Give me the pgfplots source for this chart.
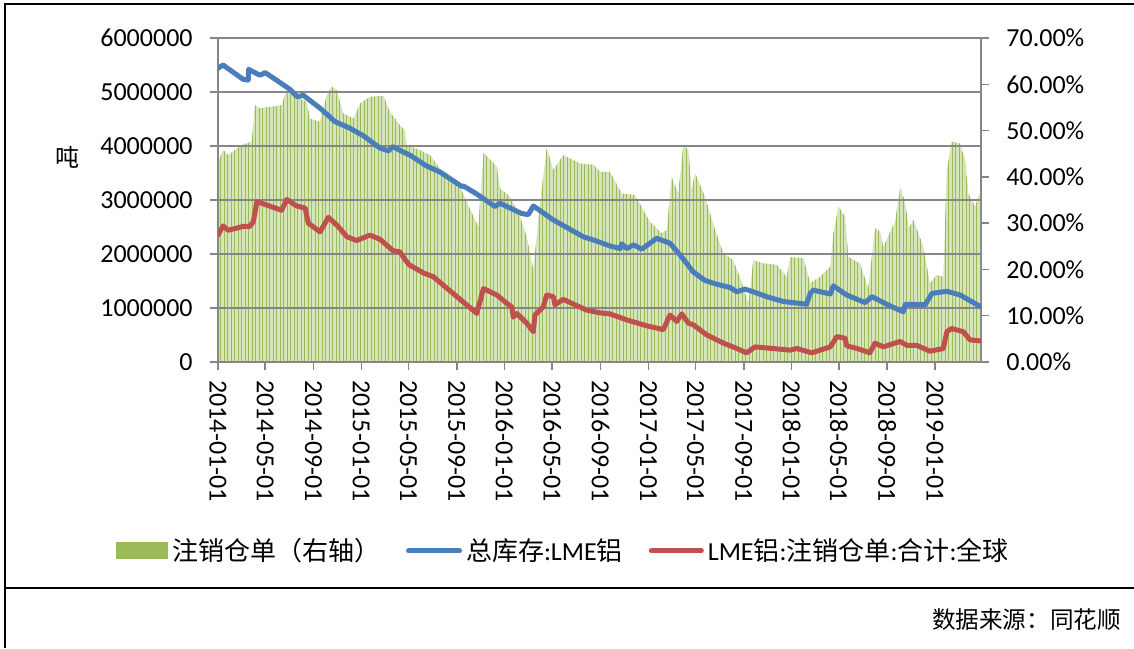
\documentclass[border=0pt]{standalone}
\usepackage{pgfplots}
\pgfplotsset{compat=1.18}
\usepackage{pgfplotstable}
\usepackage{fontspec}
\setmainfont{Carlito}
\newfontfamily\cjk{Noto Sans CJK SC}
\usetikzlibrary{patterns.meta}

\definecolor{exblue}{RGB}{74,126,187}
\definecolor{exred}{RGB}{192,80,77}
\definecolor{exgreen}{RGB}{155,187,89}
\definecolor{exlight}{RGB}{214,228,186}
\definecolor{exgrid}{RGB}{134,134,134}

\pgfplotsset{
  greenlegend/.style={legend image code/.code={\fill[exgreen] (0pt,-4pt) rectangle (25.5pt,4pt);}},
  bluelegend/.style={legend image code/.code={\draw[exblue, line width=2.5pt, line cap=round] (1pt,0pt) -- (26.5pt,0pt);}},
  redlegend/.style={legend image code/.code={\draw[exred, line width=2.5pt, line cap=round] (1pt,0pt) -- (26pt,0pt);}},
}

% share of cancelled warrants, % (right axis)
\pgfplotstableread{
day pct
0 43.3
13 45.8
26 44.7
60 46.9
86 47.6
94 55.5
107 54.8
162 55.5
173 58.4
226 56.2
234 52.6
260 51.9
277 57.7
290 59.5
302 58.8
319 53.7
345 52.6
362 55.9
387 57.3
421 57.5
438 54.1
463 51.2
476 50.1
480 46.9
514 45.8
540 44.7
574 40.8
616 37.9
633 34.6
663 29.2
676 45.2
710 42.2
718 37.5
744 35.7
769 31.4
786 27.1
803 19.9
820 34.3
837 46.2
854 41.5
879 44.7
922 42.9
956 42.6
973 41.1
998 41.1
1028 36.4
1062 36.1
1083 32.8
1100 30.3
1130 27.8
1143 28.5
1155 40.0
1172 36.4
1185 46.9
1198 45.8
1206 37.2
1215 40.8
1240 35.7
1266 28.5
1287 23.5
1312 22.0
1330 18.1
1351 12.7
1363 22.0
1389 21.3
1423 21.0
1448 18.4
1457 22.7
1491 22.4
1508 17.0
1533 18.4
1559 20.6
1567 27.8
1580 33.6
1597 31.4
1605 22.7
1635 21.3
1656 15.9
1673 28.9
1686 28.2
1694 24.9
1724 30.3
1738 37.9
1750 34.3
1759 28.9
1771 30.7
1796 24.9
1813 17.0
1830 18.8
1847 18.4
1856 41.5
1868 47.6
1890 47.2
1903 43.6
1911 36.4
1928 33.6
1941 36.8
}\greentab

% total stock, tonnes
\pgfplotstableread{
day val
0 5440000
13 5500000
64 5235000
77 5220000
78 5420000
107 5310000
120 5360000
149 5220000
183 5050000
202 4910000
217 4940000
260 4700000
298 4450000
336 4330000
370 4190000
413 3960000
434 3910000
445 3990000
463 3920000
489 3830000
531 3630000
565 3520000
621 3250000
625 3260000
659 3110000
705 2880000
718 2940000
773 2750000
790 2730000
803 2890000
854 2630000
930 2320000
964 2240000
998 2150000
1024 2100000
1028 2190000
1041 2100000
1058 2170000
1079 2090000
1117 2290000
1151 2200000
1177 1980000
1210 1670000
1240 1510000
1270 1440000
1304 1380000
1321 1300000
1342 1350000
1363 1300000
1397 1210000
1440 1120000
1499 1070000
1508 1270000
1516 1330000
1559 1260000
1567 1410000
1601 1240000
1648 1100000
1665 1210000
1711 1040000
1745 930000
1750 1070000
1801 1060000
1818 1270000
1856 1310000
1890 1240000
1943 1020000
}\bluetab

% cancelled warrants, tonnes
\pgfplotstableread{
day val
0 2350000
13 2520000
26 2440000
64 2510000
81 2510000
90 2600000
99 2970000
115 2930000
162 2810000
175 3010000
200 2890000
222 2850000
230 2570000
260 2410000
281 2680000
306 2510000
328 2320000
353 2250000
387 2350000
413 2270000
446 2060000
463 2040000
476 1900000
487 1800000
523 1650000
548 1580000
659 900000
676 1360000
710 1240000
735 1090000
748 1020000
752 830000
761 900000
786 720000
803 560000
807 870000
828 1020000
837 1240000
854 1210000
858 1060000
879 1160000
939 960000
973 910000
998 890000
1041 780000
1092 670000
1134 600000
1151 870000
1168 750000
1181 890000
1198 720000
1210 690000
1245 500000
1287 350000
1321 250000
1346 170000
1368 280000
1457 220000
1474 250000
1512 170000
1559 280000
1576 470000
1597 440000
1601 300000
1627 250000
1660 170000
1673 350000
1694 280000
1737 380000
1754 310000
1779 310000
1813 200000
1847 250000
1856 560000
1868 620000
1898 560000
1915 410000
1943 390000
}\redtab

\begin{document}
\begin{tikzpicture}
\path[use as bounding box] (0pt,0pt) rectangle (567pt,324pt);
\draw[line width=1.4pt] (2.5pt,0pt) -- (2.5pt,322pt) -- (567pt,322pt);
\draw[line width=1.4pt] (2.5pt,30pt) -- (567pt,30pt);
\node[anchor=center, font=\cjk\fontsize{12}{14}\selectfont] at (33.5pt,245.5pt) {吨};
\node[anchor=east, font=\cjk\fontsize{11.8}{13}\selectfont] at (564pt,14pt) {数据来源：同花顺};

% right axis: share (area drawn first, beneath everything)
\begin{axis}[
  at={(109pt,143pt)}, anchor=south west,
  width=381.5pt, height=162pt, scale only axis,
  xmin=0, xmax=1943, ymin=0, ymax=70,
  axis x line=none, axis y line*=right,
  ytick={0,10,20,30,40,50,60,70},
  yticklabels={0.00\%,10.00\%,20.00\%,30.00\%,40.00\%,50.00\%,60.00\%,70.00\%},
  tick align=outside, major tick length=4pt,
  y axis line style={draw=exgrid, line width=0.75pt},
  ytick style={draw=exgrid, line width=0.75pt},
  yticklabel style={font=\fontsize{13}{15}\selectfont, inner sep=0pt, xshift=8.5pt},
]
\addplot[fill=exlight, draw=none] table[x=day, y=pct] {\greentab} \closedcycle;
\addplot[draw=none, pattern={Lines[angle=90, distance=1.75pt, line width=0.5pt]}, pattern color=exgreen] table[x=day, y=pct] {\greentab} \closedcycle;
\end{axis}

% left axis: tonnes
\begin{axis}[
  at={(109pt,143pt)}, anchor=south west,
  width=381.5pt, height=162pt, scale only axis,
  xmin=0, xmax=1943, ymin=0, ymax=6000000,
  axis x line*=bottom, axis y line*=left,
  scaled y ticks=false,
  xtick={0,120,243,365,485,608,730,851,974,1096,1216,1339,1461,1581,1704,1826},
  xticklabels={2014-01-01,2014-05-01,2014-09-01,2015-01-01,2015-05-01,2015-09-01,2016-01-01,2016-05-01,2016-09-01,2017-01-01,2017-05-01,2017-09-01,2018-01-01,2018-05-01,2018-09-01,2019-01-01},
  ytick={0,1000000,2000000,3000000,4000000,5000000,6000000},
  yticklabels={0,1000000,2000000,3000000,4000000,5000000,6000000},
  ymajorgrids, grid style={draw=exgrid, line width=0.75pt},
  tick align=outside, major tick length=4pt,
  axis line style={draw=exgrid, line width=0.75pt},
  tick style={draw=exgrid, line width=0.75pt},
  yticklabel style={font=\fontsize{13}{15}\selectfont, inner sep=0pt, xshift=-8.5pt},
  xticklabel style={font=\fontsize{13}{15}\selectfont, rotate=-90, anchor=west, inner sep=0pt, xshift=5pt},
  legend columns=3,
  legend style={at={(0.454,-0.583)}, anchor=center, draw=none, fill=none,
    font=\fontsize{13}{15}\selectfont, inner sep=0pt,
    /tikz/every even column/.append style={column sep=11pt}},
  legend cell align=left,
]
\addlegendimage{greenlegend}
\addlegendentry{{\cjk 注销仓单（右轴）}}
\addplot[exblue, line width=2.5pt, line cap=round, line join=round, bluelegend]
  table[x=day, y=val] {\bluetab};
\addlegendentry{{\cjk 总库存}:LME{\cjk 铝}}
\addplot[exred, line width=2.5pt, line cap=round, line join=round, redlegend]
  table[x=day, y=val] {\redtab};
\addlegendentry{LME{\cjk 铝}:{\cjk 注销仓单}:{\cjk 合计}:{\cjk 全球}}
\end{axis}
\end{tikzpicture}
\end{document}
